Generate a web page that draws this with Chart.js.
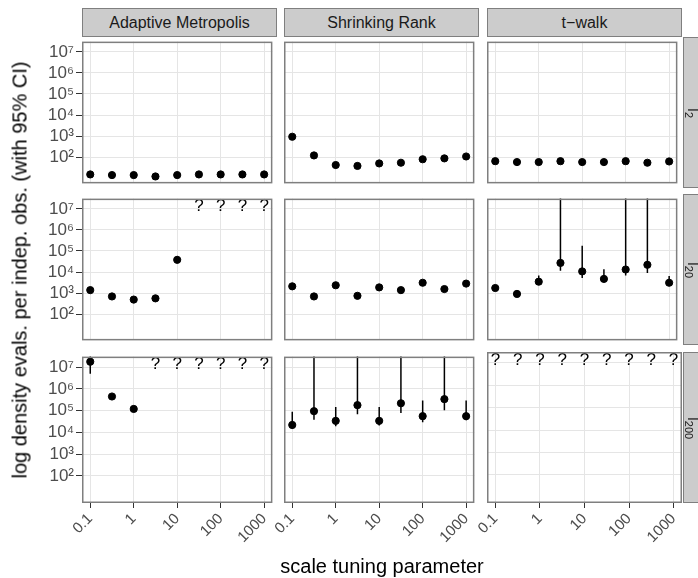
<!DOCTYPE html>
<html>
<head>
<meta charset="utf-8">
<script src="https://cdn.jsdelivr.net/npm/chart.js@4"></script>
<style>
  body { margin: 0; background: #fff; }
  #wrap { position: relative; width: 698px; height: 578px; overflow: hidden; font-family: "Liberation Sans", Arial, sans-serif; }
  #wrap canvas { position: absolute; }
  .strip { position: absolute; box-sizing: border-box; background: #cccccc; border: 1px solid #7f7f7f; color: #1a1a1a; }
  .top { font-size: 16px; text-align: center; line-height: 27px; }
  .rlab { position: absolute; font-size: 14px; transform: translate(-50%, -50%) rotate(90deg); white-space: nowrap; color: #1a1a1a; }
  .rlab sub { font-size: 11px; }
  .title { position: absolute; font-size: 20px; color: #000; white-space: nowrap; }
</style>
</head>
<body>
<div id="wrap"></div>
<script>
// x positions (scale tuning parameter) and axis ticks
const xValues = [0.1, 0.316, 1, 3.16, 10, 31.6, 100, 316, 1000];
const xTicks = [0.1, 1, 10, 100, 1000];
const yTicks = [1e2, 1e3, 1e4, 1e5, 1e6, 1e7];
const methods = ["Adaptive Metropolis", "Shrinking Rank", "t\u2212walk"];
const dims = ["2", "20", "200"];

// point estimates, null = no result ("?")
const amD2 = [15, 14, 14, 12, 14, 15, 15, 15, 15];
const srD2 = [930, 120, 42, 38, 50, 54, 79, 87, 107];
const twD2 = [64, 58, 58, 64, 58, 58, 64, 54, 62];
const amD20 = [1380, 690, 490, 560, 38000, null, null, null, null];
const srD20 = [2090, 690, 2350, 740, 1860, 1380, 3090, 1550, 2820];
const twD20 = [1740, 910, 3470, 27000, 10700, 4700, 13200, 22000, 3090];
const amD200 = [1.8e7, 4.5e5, 1.2e5, null, null, null, null, null, null];
const srD200 = [22000, 95000, 34000, 180000, 34000, 220000, 56000, 340000, 56000];
const twD200 = [null, null, null, null, null, null, null, null, null];

// 95% CI bounds (null = bar hidden behind the point)
const amD20Lo = [null, null, null, null, 27000, null, null, null, null];
const amD20Hi = [null, null, null, null, 54000, null, null, null, null];
const twD20Lo = [null, null, 2450, 11500, 5250, 3240, 6760, 9100, 2290];
const twD20Hi = [null, null, 6760, 1e9, 178000, 13500, 1e9, 1e9, 6460];
const amD200Lo = [5e6, 3.2e5, null, null, null, null, null, null, null];
const amD200Hi = [1e9, 5.8e5, null, null, null, null, null, null, null];
const srD200Lo = [14800, 38000, 19000, 68000, 21000, 79000, 29500, 105000, 36000];
const srD200Hi = [89000, 1e9, 148000, 1e9, 148000, 1e9, 295000, 1e9, 295000];

const values = [[amD2, srD2, twD2], [amD20, srD20, twD20], [amD200, srD200, twD200]];
const lows = [[null, null, null], [amD20Lo, null, twD20Lo], [amD200Lo, srD200Lo, null]];
const highs = [[null, null, null], [amD20Hi, null, twD20Hi], [amD200Hi, srD200Hi, null]];

// layout
const colLeft = [82, 284, 487];
const rowTop = [37, 194, 352];
const panelW = 195, panelH = 151;
const xAxisH = 55;
const leftMargin = [82, 30, 30];
const xMin = Math.pow(10, -1.19), xMax = Math.pow(10, 3.19);
const yMin = Math.pow(10, 0.75), yMax = Math.pow(10, 7.49);
const sup = { 2: "\u00b2", 3: "\u00b3", 4: "\u2074", 5: "\u2075", 6: "\u2076", 7: "\u2077" };

const wrap = document.getElementById("wrap");

function noPad(axis) {
  axis.paddingLeft = 0; axis.paddingRight = 0;
  axis.paddingTop = 0; axis.paddingBottom = 0;
}

const panelPlugin = {
  id: "panelExtras",
  beforeDatasetsDraw(chart, args, opts) {
    const { ctx, chartArea: a, scales: { x, y } } = chart;
    if (!opts.lo) return;
    ctx.save();
    ctx.beginPath();
    ctx.rect(a.left, a.top, a.right - a.left, a.bottom - a.top);
    ctx.clip();
    ctx.strokeStyle = "#000";
    ctx.lineWidth = 1.5;
    opts.lo.forEach((lo, i) => {
      if (lo == null) return;
      const px = x.getPixelForValue(xValues[i]);
      ctx.beginPath();
      ctx.moveTo(px, y.getPixelForValue(lo));
      ctx.lineTo(px, y.getPixelForValue(opts.hi[i]));
      ctx.stroke();
    });
    ctx.restore();
  },
  afterDatasetsDraw(chart, args, opts) {
    const { ctx, scales: { x, y } } = chart;
    ctx.save();
    ctx.fillStyle = "#000";
    ctx.font = "17px 'Liberation Sans', Arial, sans-serif";
    ctx.textAlign = "center";
    ctx.textBaseline = "middle";
    opts.vals.forEach((v, i) => {
      if (v != null) return;
      ctx.fillText("?", x.getPixelForValue(xValues[i]), y.getPixelForValue(1e7) - 3);
    });
    ctx.restore();
  },
  afterDraw(chart) {
    const { ctx, chartArea: a } = chart;
    ctx.save();
    ctx.strokeStyle = "#7f7f7f";
    ctx.lineWidth = 1.5;
    ctx.strokeRect(a.left + 0.75, a.top + 0.75, a.right - a.left - 1.5, a.bottom - a.top - 1.5);
    ctx.restore();
  }
};

for (let r = 0; r < 3; r++) {
  for (let c = 0; c < 3; c++) {
    const left = colLeft[c] - leftMargin[c];
    const w = leftMargin[c] + panelW;
    const h = panelH + (r === 2 ? xAxisH : 0);
    const cv = document.createElement("canvas");
    cv.width = w; cv.height = h;
    cv.style.left = left + "px"; cv.style.top = rowTop[r] + "px";
    cv.style.width = w + "px"; cv.style.height = h + "px";
    wrap.appendChild(cv);

    const vals = values[r][c];
    const pts = [];
    vals.forEach((v, i) => { if (v != null) pts.push({ x: xValues[i], y: v }); });

    new Chart(cv.getContext("2d"), {
      type: "scatter",
      data: {
        datasets: [{
          data: pts,
          backgroundColor: "#000",
          borderColor: "#000",
          pointRadius: 3.6,
          pointHoverRadius: 3.6,
          clip: false
        }]
      },
      options: {
        responsive: false,
        animation: false,
        devicePixelRatio: 1,
        events: [],
        layout: { padding: 0 },
        plugins: {
          legend: { display: false },
          tooltip: { enabled: false },
          panelExtras: { vals: vals, lo: lows[r][c], hi: highs[r][c] }
        },
        scales: {
          x: {
            type: "logarithmic",
            min: xMin, max: xMax,
            afterBuildTicks: (axis) => { axis.ticks = xTicks.map(v => ({ value: v })); },
            afterFit: (axis) => { axis.height = r === 2 ? xAxisH : 0; noPad(axis); },
            grid: { color: "#e5e5e5", lineWidth: 1, drawTicks: r === 2, tickLength: 5, tickColor: "#333", tickWidth: 1 },
            border: { display: false },
            ticks: {
              display: r === 2,
              autoSkip: false,
              minRotation: 45, maxRotation: 45,
              padding: 2,
              color: "#4d4d4d",
              font: { family: "'Liberation Sans', Arial, sans-serif", size: 15 },
              callback: (v) => String(v)
            }
          },
          y: {
            type: "logarithmic",
            min: yMin, max: yMax,
            afterBuildTicks: (axis) => { axis.ticks = yTicks.map(v => ({ value: v })); },
            afterFit: (axis) => { axis.width = leftMargin[c]; noPad(axis); },
            grid: { color: "#e5e5e5", lineWidth: 1, drawTicks: c === 0, tickLength: 6, tickColor: "#333", tickWidth: 1 },
            border: { display: false },
            ticks: {
              display: c === 0,
              padding: 2,
              color: "#4d4d4d",
              font: { family: "'Liberation Sans', Arial, sans-serif", size: 17 },
              callback: (v) => "10" + sup[Math.round(Math.log10(v))]
            }
          }
        }
      },
      plugins: [panelPlugin]
    });
  }
}

// facet strips
methods.forEach((m, c) => {
  const d = document.createElement("div");
  d.className = "strip top";
  d.style.left = colLeft[c] + "px"; d.style.top = "8px";
  d.style.width = panelW + "px"; d.style.height = "29px";
  d.textContent = m;
  wrap.appendChild(d);
});
dims.forEach((k, r) => {
  const d = document.createElement("div");
  d.className = "strip";
  d.style.left = "683px"; d.style.top = rowTop[r] + "px";
  d.style.width = "30px"; d.style.height = panelH + "px";
  wrap.appendChild(d);
  const t = document.createElement("div");
  t.className = "rlab";
  t.style.left = "692px"; t.style.top = (rowTop[r] + panelH / 2) + "px";
  t.innerHTML = "I<sub>" + k + "</sub>";
  wrap.appendChild(t);
});

// axis titles
const xt = document.createElement("div");
xt.className = "title";
xt.textContent = "scale tuning parameter";
xt.style.left = "382px"; xt.style.top = "566px";
xt.style.transform = "translate(-50%, -50%)";
wrap.appendChild(xt);
const yt = document.createElement("div");
yt.className = "title";
yt.textContent = "log density evals. per indep. obs. (with 95% CI)";
yt.style.left = "20px"; yt.style.top = "270px";
yt.style.transform = "translate(-50%, -50%) rotate(-90deg)";
wrap.appendChild(yt);
</script>
</body>
</html>
